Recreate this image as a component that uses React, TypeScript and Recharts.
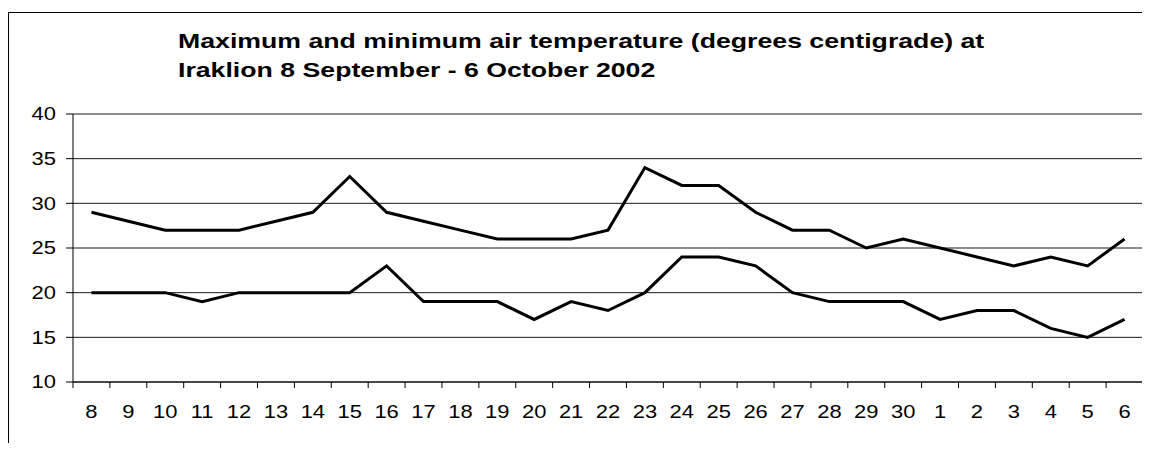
import { LineChart, Line, XAxis, YAxis, CartesianGrid } from "recharts";

const days = [
  "8", "9", "10", "11", "12", "13", "14", "15", "16", "17", "18", "19", "20", "21", "22",
  "23", "24", "25", "26", "27", "28", "29", "30", "1", "2", "3", "4", "5", "6",
];
const maxTemp = [
  29, 28, 27, 27, 27, 28, 29, 33, 29, 28, 27, 26, 26, 26, 27,
  34, 32, 32, 29, 27, 27, 25, 26, 25, 24, 23, 24, 23, 26,
];
const minTemp = [
  20, 20, 20, 19, 20, 20, 20, 20, 23, 19, 19, 19, 17, 19, 18,
  20, 24, 24, 23, 20, 19, 19, 19, 17, 18, 18, 16, 15, 17,
];
const yTicks = [10, 15, 20, 25, 30, 35, 40];

const titleLines = [
  "Maximum and minimum air temperature (degrees centigrade) at",
  "Iraklion 8 September - 6 October 2002",
];

const data = days.map((d, i) => ({ day: d, max: maxTemp[i], min: minTemp[i] }));

const W = 1142;
const H = 435;
const MARGIN = { top: 106, right: 7, bottom: 21, left: 0 };
const Y_AXIS_W = 65;
const PLOT_W = W - MARGIN.left - MARGIN.right - Y_AXIS_W;
const BAND = PLOT_W / days.length;
const FONT = '"Liberation Sans", Arial, sans-serif';
const STRETCH = 1.22;

function XTick(props: any) {
  const { x, y, payload, index } = props;
  return (
    <g>
      <line x1={x - BAND / 2} x2={x - BAND / 2} y1={y} y2={y + 6} stroke="#000" />
      {index === days.length - 1 && (
        <line x1={x + BAND / 2} x2={x + BAND / 2} y1={y} y2={y + 6} stroke="#000" />
      )}
      <text
        transform={`translate(${x},${y + 36}) scale(${STRETCH},1)`}
        textAnchor="middle"
        fontSize={18}
        fontFamily={FONT}
        fill="#000"
      >
        {payload.value}
      </text>
    </g>
  );
}

function YTick(props: any) {
  const { x, y, payload } = props;
  return (
    <text
      transform={`translate(${x},${y}) scale(${STRETCH},1)`}
      textAnchor="end"
      dy="0.35em"
      fontSize={18}
      fontFamily={FONT}
      fill="#000"
    >
      {payload.value}
    </text>
  );
}

export default function App() {
  return (
    <div
      style={{
        position: "relative",
        width: W,
        height: H + 8,
        marginBottom: -8,
        overflow: "hidden",
        background: "#fff",
      }}
    >
      <div
        style={{
          position: "absolute",
          left: 0,
          top: 4,
          width: W + 10,
          height: H + 10,
          borderLeft: "1px solid #000",
          borderTop: "1px solid #000",
        }}
      />
      <div
        style={{
          position: "absolute",
          left: 170,
          top: 18,
          fontFamily: FONT,
          fontWeight: "bold",
          fontSize: 21,
          lineHeight: "29px",
          whiteSpace: "pre",
          color: "#000",
          transform: "scaleX(1.27)",
          transformOrigin: "left top",
        }}
      >
        {titleLines.join("\n")}
      </div>
      <div style={{ position: "absolute", left: 0, top: 0 }}>
        <LineChart width={W} height={H} data={data} margin={MARGIN}>
          <CartesianGrid vertical={false} stroke="#000" strokeOpacity={0.9} />
          <XAxis
            dataKey="day"
            interval={0}
            padding={{ left: BAND / 2, right: BAND / 2 }}
            axisLine={{ stroke: "#000" }}
            tickLine={false}
            tickSize={0}
            tickMargin={0}
            height={40}
            tick={<XTick />}
          />
          <YAxis
            domain={[10, 40]}
            ticks={yTicks}
            interval={0}
            width={Y_AXIS_W}
            axisLine={{ stroke: "#000" }}
            tickLine={{ stroke: "#000" }}
            tickSize={7}
            tickMargin={10}
            tick={<YTick />}
          />
          <Line
            type="linear"
            dataKey="max"
            stroke="#000"
            strokeWidth={3}
            dot={false}
            isAnimationActive={false}
          />
          <Line
            type="linear"
            dataKey="min"
            stroke="#000"
            strokeWidth={3}
            dot={false}
            isAnimationActive={false}
          />
        </LineChart>
      </div>
    </div>
  );
}
